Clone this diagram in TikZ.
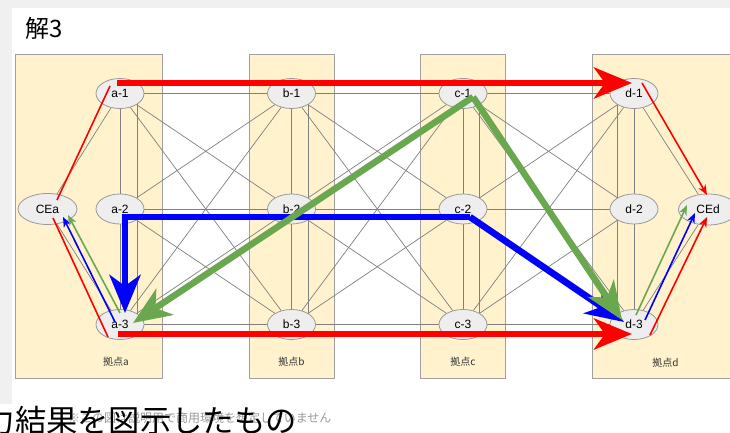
\documentclass[tikz,border=0pt]{standalone}
\usepackage{fontspec}
\setmainfont{Liberation Sans}
\newfontfamily\jp{Noto Sans CJK JP}
\usetikzlibrary{arrows.meta,calc,shapes.geometric}
\pgfdeclarelayer{bg}
\pgfsetlayers{bg,main}
\definecolor{boxfill}{HTML}{FFF2CC}
\definecolor{boxborder}{HTML}{A0A0A0}
\definecolor{nodefill}{HTML}{EEEEEE}
\definecolor{nodeborder}{HTML}{999999}
\definecolor{meshgray}{HTML}{808080}
\definecolor{pagegray}{HTML}{F0F0F0}
\definecolor{pathred}{HTML}{FF0000}
\definecolor{pathblue}{HTML}{0000FF}
\definecolor{pathgreen}{HTML}{6AA84F}
\definecolor{notegray}{HTML}{9A9A9A}
\tikzset{
  loc/.style={ellipse, draw=nodeborder, fill=nodefill, line width=0.8pt,
    minimum width=48pt, minimum height=30pt, inner sep=0pt,
    font=\fontsize{12}{12}\selectfont},
  ce/.style={loc, minimum width=59pt, minimum height=31pt},
  area/.style={draw=boxborder, fill=boxfill, line width=0.8pt},
  arealabel/.style={font=\jp\fontsize{10}{10}\selectfont, text=black!80, inner sep=0pt},
  mesh/.style={draw=meshgray, line width=0.7pt},
  bigpath/.style={line width=6.5pt, line join=miter,
    -{Stealth[length=38pt,width=31pt,inset=11pt]}},
  smallpath/.style={line width=1.6pt, -{Stealth[length=10pt,width=8pt,inset=3pt]}},
  smallline/.style={line width=1.6pt}
}
\begin{document}
\begin{tikzpicture}[x=1pt,y=-1pt]
\useasboundingbox (0,0) rectangle (730,433);

% title
\node[anchor=base west, inner sep=0pt, font=\jp\fontsize{24}{24}\selectfont] (title) at (25,37.5) {解3};

% location nodes
\node[loc] (a1) at (120,93.5) {a-1};
\node[loc] (a2) at (120,209) {a-2};
\node[loc] (a3) at (120,324.5) {a-3};
\node[loc] (b1) at (291.5,93.5) {b-1};
\node[loc] (b2) at (291.5,209) {b-2};
\node[loc] (b3) at (291.5,324.5) {b-3};
\node[loc] (c1) at (463,93.5) {c-1};
\node[loc] (c2) at (463,209) {c-2};
\node[loc] (c3) at (463,324.5) {c-3};
\node[loc] (d1) at (634,93.5) {d-1};
\node[loc] (d2) at (634,209) {d-2};
\node[loc] (d3) at (634,324.5) {d-3};
\node[ce] (CEa) at (47.5,209) {CEa};
\node[ce] (CEd) at (708,209.5) {CEd};

\begin{pgfonlayer}{bg}
  \fill[white] (0,0) rectangle (730,433);
  \fill[pagegray] (0,0) rectangle (730,8);
  \fill[pagegray] (0,0) rectangle (12,404);
  \draw[area] (15,54) rectangle (162,378);
  \draw[area] (249,54) rectangle (334,378);
  \draw[area] (420,54) rectangle (505,378);
  \draw[area] (592,54) rectangle (745,378);
  \foreach \p/\q in {a/b,b/c,c/d}{
    \foreach \i in {1,2,3}{
      \foreach \j in {1,2,3}{
        \draw[mesh] (\p\i) -- (\q\j);
      }
    }
  }
  \foreach \p/\s in {a/17,b/16.5,c/16,d/-17}{
    \draw[mesh] (\p1.center) -- (\p3.center);
    \draw[mesh] ($(\p1)+(\s,0)$) -- ($(\p3)+(\s,0)$);
  }
  \draw[mesh] (CEa) -- (a1);
  \draw[mesh] (CEa) -- (a3);
  \draw[mesh] (CEd) -- (d1);
  \draw[mesh] (CEd) -- (d3);
\end{pgfonlayer}

% area labels
\node[arealabel] (la) at (116,362) {拠点a};
\node[arealabel] (lb) at (291.5,362) {拠点b};
\node[arealabel] (lc) at (463,362) {拠点c};
\node[arealabel] (ld) at (665.5,363) {拠点d};

% thin paths to CE nodes
\draw[smallline, pathred] ($(a1)+(-10,-7.5)$) -- ($(CEa)+(9.5,-9)$);
\draw[smallline, pathred] ($(CEa)+(5.5,9)$) -- ($(a3)+(-12,12.5)$);
\draw[smallpath, pathblue] ($(a3)+(-5,-2.5)$) -- ($(CEa)+(15.5,8)$);
\draw[smallpath, pathgreen] ($(a3)+(0,-11.5)$) -- ($(CEa)+(20.5,6)$);
\draw[smallpath, pathred] ($(d1)+(8,-10.5)$) -- ($(CEd)+(-1,-14.5)$);
\draw[smallpath, pathred] ($(d3)+(16,10.5)$) -- ($(CEd)+(-1,7.5)$);
\draw[smallpath, pathblue] ($(d3)+(11,-4.5)$) -- ($(CEd)+(-13,3.5)$);
\draw[smallpath, pathgreen] ($(d3)+(2,-9.5)$) -- ($(CEd)+(-21,-4.5)$);

% thick paths
\draw[bigpath, pathred] ($(a1)+(-3,-10.5)$) -- ($(d1)+(-2,-10.5)$);
\draw[bigpath, pathred] ($(a3)+(-2,9.5)$) -- ($(d3)+(-2,9.5)$);
\draw[bigpath, pathblue] ($(c2)+(7,8)$) -- ($(a2)+(5,8)$) -- ($(a3)+(5,-11.5)$);
\draw[bigpath, pathblue] ($(c2)+(7,8)$) -- ($(d3)+(-10,-2.5)$);
\draw[bigpath, pathgreen] ($(c1)+(10,3.5)$) -- ($(a3)+(13,-1.5)$);
\draw[bigpath, pathgreen] ($(c1)+(10,3.5)$) -- ($(d3)+(-12,-4.5)$);

% bottom texts
\node[anchor=base west, inner sep=0pt, text=notegray, font=\jp\fontsize{12}{12}\selectfont] (note) at (68,422) {※この図は説明用で商用環境を想定していません};
\node[anchor=base west, inner sep=0pt, font=\jp\fontsize{31.3}{31.3}\selectfont] (caption) at (-16.5,432) {力結果を図示したもの};
\end{tikzpicture}
\end{document}
